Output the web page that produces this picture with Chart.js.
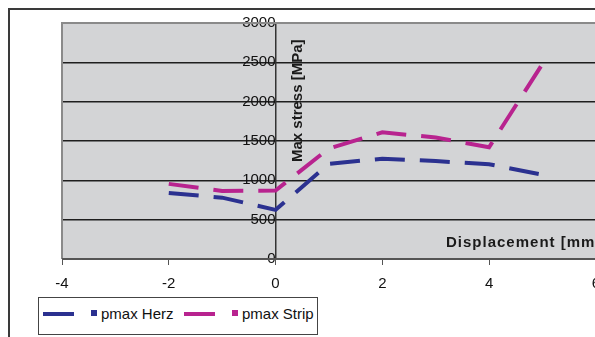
<!DOCTYPE html>
<html>
<head>
<meta charset="utf-8">
<script src="https://cdn.jsdelivr.net/npm/chart.js@4"></script>
<style>
  html, body { margin: 0; padding: 0; background: #fff; overflow: hidden; }
  #wrap { position: relative; width: 610px; height: 337px; }
  #frame { position: absolute; left: 8px; top: 8px; width: 620px; height: 340px;
           border-left: 2px solid #3a3a3a; border-top: 2px solid #3a3a3a; }
  #legend { position: absolute; left: 38px; top: 297px; width: 278px; height: 36px;
            border: 1px solid #444; background: #fff; font: 15px "Liberation Sans", Arial, sans-serif; color: #111; }
  .item { position: absolute; top: 0; height: 36px; }
  .dash { position: absolute; top: 14px; width: 31px; height: 4px; }
  .sq { position: absolute; top: 12px; width: 6px; height: 6px; }
  .lbl { position: absolute; top: 7px; white-space: nowrap; }
</style>
</head>
<body>
<div id="wrap">
  <div id="frame"></div>
  <canvas id="chart" width="610" height="337"></canvas>
  <div id="legend"></div>
</div>
<script>
const displacement = [-2, -1, 0, 1, 2, 3, 4, 5];
const pmaxHerz = [840, 780, 625, 1210, 1275, 1245, 1205, 1070];
const pmaxStrip = [955, 865, 870, 1405, 1610, 1545, 1420, 2480];
const seriesNames = ["pmax Herz", "pmax Strip"];
const seriesColors = ["#2b3190", "#b8238f"];

const toPoints = ys => displacement.map((x, i) => ({ x: x, y: ys[i] }));

// gray plot area with its border
const plotBackground = {
  id: "plotBackground",
  beforeDraw(chart) {
    const { ctx, chartArea: a } = chart;
    ctx.save();
    ctx.fillStyle = "#d3d4d6";
    ctx.fillRect(a.left, a.top, a.right - a.left, a.bottom - a.top);
    ctx.restore();
  },
  afterDatasetsDraw(chart) {
    const { ctx, chartArea: a } = chart;
    ctx.save();
    ctx.strokeStyle = "#8a8a8a";
    ctx.lineWidth = 2;
    ctx.beginPath();
    ctx.moveTo(a.left, a.bottom);
    ctx.lineTo(a.left, a.top);
    ctx.lineTo(a.right + 10, a.top);
    ctx.stroke();
    ctx.strokeStyle = "#555";
    ctx.beginPath();
    ctx.moveTo(a.left, a.bottom);
    ctx.lineTo(a.right + 10, a.bottom);
    ctx.stroke();
    ctx.restore();
  }
};

// axis titles sit inside the plot area
const axisTitles = {
  id: "axisTitles",
  afterDraw(chart) {
    const { ctx, scales } = chart;
    ctx.save();
    ctx.fillStyle = "#1a1a1a";
    ctx.font = "bold 15px 'Liberation Sans', Arial, sans-serif";
    ctx.textBaseline = "middle";
    ctx.textAlign = "left";
    ctx.letterSpacing = "1px";
    ctx.fillText("Displacement [mm]", 446, 243);
    ctx.letterSpacing = "0px";
    ctx.translate(scales.x.getPixelForValue(0) + 22, 162);
    ctx.rotate(-Math.PI / 2);
    ctx.fillText("Max stress [MPa]", 0, 0);
    ctx.restore();
  }
};

const font = { family: "'Liberation Sans', Arial, sans-serif", size: 15 };

new Chart(document.getElementById("chart"), {
  type: "line",
  data: {
    datasets: [pmaxHerz, pmaxStrip].map((ys, i) => ({
      label: seriesNames[i],
      data: toPoints(ys),
      borderColor: seriesColors[i],
      borderWidth: 4,
      borderDash: [30, 15],
      borderCapStyle: "butt",
      pointRadius: 0,
      tension: 0,
      fill: false
    }))
  },
  options: {
    responsive: false,
    animation: false,
    layout: { padding: { left: 62, top: 23, right: 5, bottom: 34 } },
    plugins: { legend: { display: false }, tooltip: { enabled: false } },
    scales: {
      x: {
        type: "linear",
        min: -4,
        max: 6,
        ticks: { stepSize: 2, color: "#111", font: font, padding: 10, callback: v => String(v) },
        grid: { drawOnChartArea: false, tickLength: 6, tickColor: "#555" },
        border: { display: false }
      },
      y: {
        position: { x: 0 },
        min: 0,
        max: 3000,
        ticks: { stepSize: 500, color: "#111", font: font, padding: 5, callback: v => String(v) },
        grid: {
          color: ctx => (ctx.tick && (ctx.tick.value === 0 || ctx.tick.value === 3000)) ? "rgba(0,0,0,0)" : "#1e1e1e",
          lineWidth: 1.5,
          tickLength: 7,
          tickColor: "#333"
        },
        border: { display: true, color: "#333", width: 1.5 }
      }
    }
  },
  plugins: [plotBackground, axisTitles]
});

// legend: long dash followed by a short dash, then the series name
const legend = document.getElementById("legend");
const offsets = [4, 145];
seriesNames.forEach((name, i) => {
  const item = document.createElement("div");
  item.className = "item";
  item.style.left = offsets[i] + "px";
  item.innerHTML =
    '<span class="dash" style="left:0;background:' + seriesColors[i] + '"></span>' +
    '<span class="sq" style="left:48px;background:' + seriesColors[i] + '"></span>' +
    '<span class="lbl" style="left:58px">' + name + '</span>';
  legend.appendChild(item);
});
</script>
</body>
</html>
